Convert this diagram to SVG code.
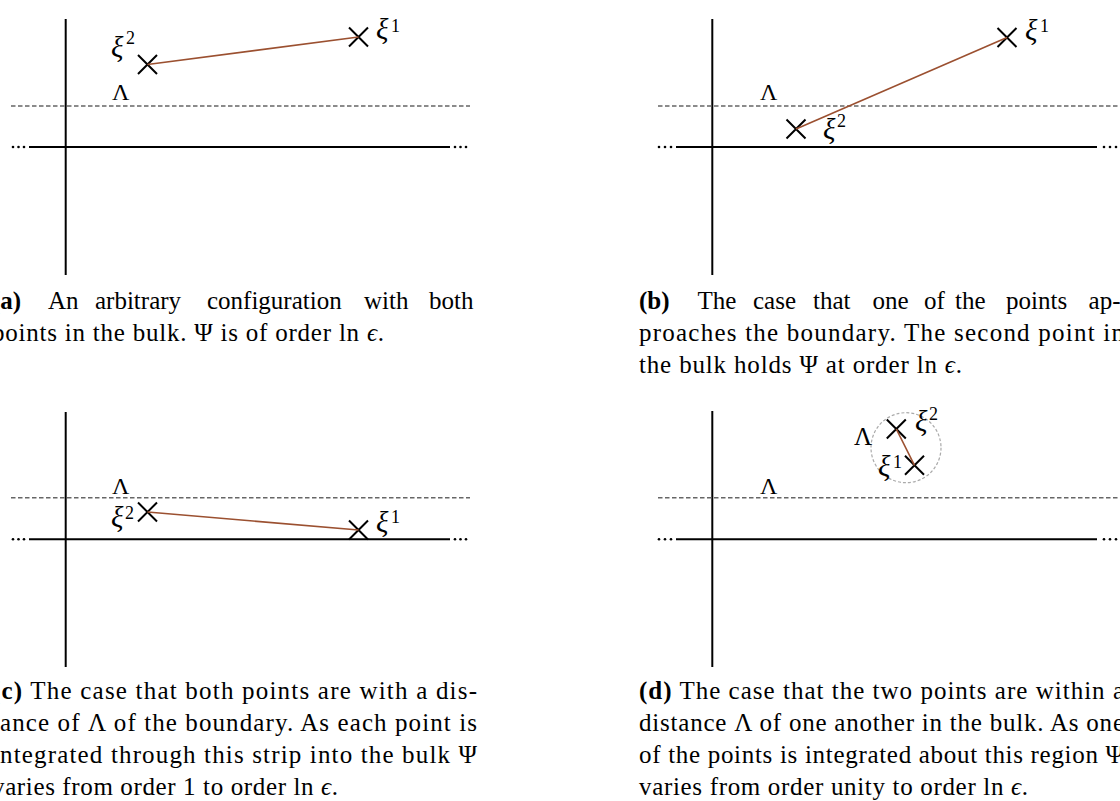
<svg xmlns="http://www.w3.org/2000/svg" width="1120" height="801" viewBox="0 0 1120 801">
<defs>
<path id="cross" d="M-9.5,-9.5 L9.5,9.5 M-9.5,9.5 L9.5,-9.5"/>
<style>
.axis{stroke:#000;stroke-width:2;fill:none}
.bound{stroke:#666;stroke-width:1.6;stroke-dasharray:4.5 2.5;fill:none}
.dot{fill:#000}
.cross{stroke:#000;stroke-width:2;fill:none}
.link{stroke:#9b5030;stroke-width:1.6;fill:none}
.halo{stroke:#aaa;stroke-width:1.2;stroke-dasharray:3 2;fill:none}
text{font-family:"Liberation Serif","DejaVu Serif",serif;fill:#000}
.m{font-size:24px}
.xi{font-style:italic;font-size:29px}
.sup{font-size:18px}
.cap{font-size:25px}
.b{font-weight:bold}
.it{font-style:italic}
</style>
</defs>
<rect width="1120" height="801" fill="#fff"/>

<!-- Panel a -->
<g id="panel-a">
<line class="axis" x1="65.7" y1="19" x2="65.7" y2="275"/>
<line class="axis" x1="29" y1="147" x2="450" y2="147"/>
<circle class="dot" cx="13" cy="147" r="1.3"/><circle class="dot" cx="18.5" cy="147" r="1.3"/><circle class="dot" cx="24" cy="147" r="1.3"/>
<circle class="dot" cx="455" cy="147" r="1.3"/><circle class="dot" cx="460.5" cy="147" r="1.3"/><circle class="dot" cx="466" cy="147" r="1.3"/>
<line class="bound" x1="11" y1="106" x2="470" y2="106"/>
<text class="m" x="112" y="100">Λ</text>
</g>
<g id="a-xi2"><use href="#cross" class="cross" x="147.5" y="64.5"/><text class="xi" x="111" y="57">ξ</text><text class="sup" x="126" y="44">2</text></g>
<g id="a-xi1"><use href="#cross" class="cross" x="358.5" y="37"/><text class="xi" x="376" y="39">ξ</text><text class="sup" x="391" y="32">1</text></g>

<!-- Panel b -->
<g id="panel-b">
<line class="axis" x1="712.3" y1="19" x2="712.3" y2="275"/>
<line class="axis" x1="676" y1="147" x2="1097" y2="147"/>
<circle class="dot" cx="659" cy="147" r="1.3"/><circle class="dot" cx="665" cy="147" r="1.3"/><circle class="dot" cx="671" cy="147" r="1.3"/>
<circle class="dot" cx="1104" cy="147" r="1.3"/><circle class="dot" cx="1110" cy="147" r="1.3"/><circle class="dot" cx="1116" cy="147" r="1.3"/>
<line class="bound" x1="658" y1="106" x2="1120" y2="106"/>
<text class="m" x="760" y="100">Λ</text>
</g>
<g id="b-xi2"><use href="#cross" class="cross" x="796" y="129"/><text class="xi" x="823" y="139">ξ</text><text class="sup" x="837" y="127">2</text></g>
<g id="b-xi1"><use href="#cross" class="cross" x="1007" y="37.5"/><text class="xi" x="1025" y="40">ξ</text><text class="sup" x="1040" y="32">1</text></g>

<!-- Panel c -->
<g id="panel-c">
<line class="axis" x1="65.7" y1="412" x2="65.7" y2="667"/>
<line class="axis" x1="29" y1="539.3" x2="450" y2="539.3"/>
<circle class="dot" cx="13" cy="539.3" r="1.3"/><circle class="dot" cx="18.5" cy="539.3" r="1.3"/><circle class="dot" cx="24" cy="539.3" r="1.3"/>
<circle class="dot" cx="455" cy="539.3" r="1.3"/><circle class="dot" cx="460.5" cy="539.3" r="1.3"/><circle class="dot" cx="466" cy="539.3" r="1.3"/>
<line class="bound" x1="11" y1="497.7" x2="470" y2="497.7"/>
<text class="m" x="112" y="494">Λ</text>
</g>
<g id="c-xi2"><use href="#cross" class="cross" x="147.5" y="512"/><text class="xi" x="111" y="527">ξ</text><text class="sup" x="125" y="519">2</text></g>
<g id="c-xi1"><use href="#cross" class="cross" x="358.5" y="530"/><text class="xi" x="376" y="532">ξ</text><text class="sup" x="391" y="523">1</text></g>

<!-- Panel d -->
<g id="panel-d">
<line class="axis" x1="712.3" y1="411" x2="712.3" y2="667"/>
<line class="axis" x1="676" y1="539.3" x2="1097" y2="539.3"/>
<circle class="dot" cx="659" cy="539.3" r="1.3"/><circle class="dot" cx="665" cy="539.3" r="1.3"/><circle class="dot" cx="671" cy="539.3" r="1.3"/>
<circle class="dot" cx="1104" cy="539.3" r="1.3"/><circle class="dot" cx="1110" cy="539.3" r="1.3"/><circle class="dot" cx="1116" cy="539.3" r="1.3"/>
<line class="bound" x1="658" y1="497.7" x2="1120" y2="497.7"/>
<text class="m" x="760" y="494">Λ</text>
</g>
<g id="d-region"><circle class="halo" cx="906" cy="447.7" r="35"/><text class="m" x="854" y="445" style="font-size:25px">Λ</text></g>
<g id="d-xi2"><use href="#cross" class="cross" x="896.3" y="429"/><text class="xi" x="915" y="431">ξ</text><text class="sup" x="929" y="420">2</text></g>
<g id="d-xi1"><use href="#cross" class="cross" x="914.5" y="465.3"/><text class="xi" x="878" y="476">ξ</text><text class="sup" x="893" y="468">1</text></g>

<!-- Connectors -->
<g id="connectors">
<line class="link" x1="147.5" y1="64.5" x2="358.5" y2="37"/>
<line class="link" x1="796" y1="129" x2="1007" y2="37.5"/>
<line class="link" x1="147.5" y1="512" x2="358.5" y2="530"/>
<line class="link" x1="896.3" y1="429" x2="914.5" y2="465.3"/>
</g>

<!-- Captions -->
<g id="caption-a">
<text class="cap" y="309"><tspan class="b" x="-8">(a)</tspan><tspan x="48">An</tspan><tspan x="95">arbitrary</tspan><tspan x="207">configuration</tspan><tspan x="364">with</tspan><tspan x="429">both</tspan></text>
<text class="cap" x="-8" y="341" textLength="392" lengthAdjust="spacing">points in the bulk.  Ψ is of order ln <tspan class="it">ϵ</tspan>.</text>
</g>
<g id="caption-b">
<text class="cap" y="309"><tspan class="b" x="639">(b)</tspan><tspan x="697.5">The</tspan><tspan x="753">case</tspan><tspan x="813">that</tspan><tspan x="872.5">one</tspan><tspan x="924">of</tspan><tspan x="955">the</tspan><tspan x="1006">points</tspan><tspan x="1088.6">ap-</tspan></text>
<text class="cap" x="639" y="341" textLength="485" lengthAdjust="spacing">proaches the boundary.  The second point in</text>
<text class="cap" x="639" y="373" textLength="323" lengthAdjust="spacing">the bulk holds Ψ at order ln <tspan class="it">ϵ</tspan>.</text>
</g>
<g id="caption-c">
<text class="cap" x="-8" y="699" textLength="485" lengthAdjust="spacing"><tspan class="b">(c)</tspan> The case that both points are with a dis-</text>
<text class="cap" x="-8" y="731" textLength="485" lengthAdjust="spacing">tance of Λ of the boundary.  As each point is</text>
<text class="cap" x="-8" y="763" textLength="485" lengthAdjust="spacing">integrated through this strip into the bulk Ψ</text>
<text class="cap" x="-8" y="795" textLength="346" lengthAdjust="spacing">varies from order 1 to order ln <tspan class="it">ϵ</tspan>.</text>
</g>
<g id="caption-d">
<text class="cap" x="639" y="699" textLength="485" lengthAdjust="spacing"><tspan class="b">(d)</tspan> The case that the two points are within a</text>
<text class="cap" x="639" y="731" textLength="485" lengthAdjust="spacing">distance Λ of one another in the bulk.  As one</text>
<text class="cap" x="639" y="763" textLength="485" lengthAdjust="spacing">of the points is integrated about this region Ψ</text>
<text class="cap" x="639" y="795" textLength="389" lengthAdjust="spacing">varies from order unity to order ln <tspan class="it">ϵ</tspan>.</text>
</g>
</svg>
